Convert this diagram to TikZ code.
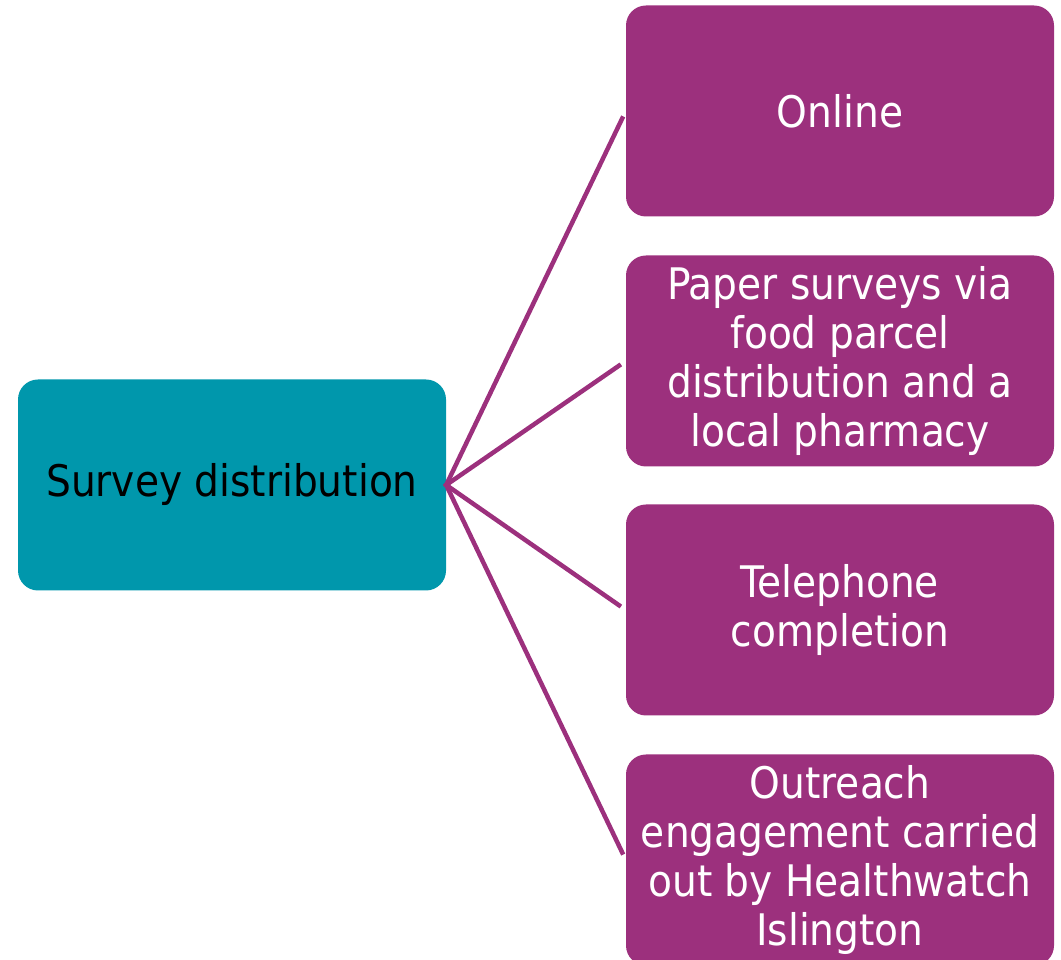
\documentclass[tikz,border=0pt]{standalone}
\usepackage{fontspec}
\setmainfont{DejaVu Sans Condensed}
\definecolor{hwteal}{RGB}{0,151,172}
\definecolor{hwplum}{RGB}{156,48,125}
\tikzset{
  topic/.style={shape=rectangle,rounded corners=20pt,fill=hwteal,minimum width=428pt,minimum height=211pt,inner sep=0pt,text=black,align=center,font=\fontsize{43.5}{49}\selectfont},
  route/.style={shape=rectangle,rounded corners=20pt,fill=hwplum,minimum width=428pt,minimum height=211pt,inner sep=0pt,text=white,align=center,font=\fontsize{43.5}{49}\selectfont},
}
\begin{document}
\begin{tikzpicture}[x=1pt,y=1pt]
\useasboundingbox (0,0) rectangle (1061,960);
\clip (0,0) rectangle (1061,960);
\node (survey) at (232,475) [topic] {Survey distribution};
\node (online) at (840,849) [route] {Online};
\node  (paper) at (840,599) [route] {Paper surveys via\\food parcel\\distribution and a\\local pharmacy};
\node  (phone) at (840,350) [route] {Telephone\\completion};
\node (outreach) at (840,100) [route] {Outreach\\engagement carried\\out by Healthwatch\\Islington};
\draw [hwplum,line width=4.5pt,shorten >=6pt,shorten <=-2pt] (survey.east) -- (online.west);
\draw [hwplum,line width=4.5pt,shorten >=6pt,shorten <=-2pt] (survey.east) -- (paper.west);
\draw [hwplum,line width=4.5pt,shorten >=6pt,shorten <=-2pt] (survey.east) -- (phone.west);
\draw [hwplum,line width=4.5pt,shorten >=6pt,shorten <=-2pt] (survey.east) -- (outreach.west);
\end{tikzpicture}
\end{document}
